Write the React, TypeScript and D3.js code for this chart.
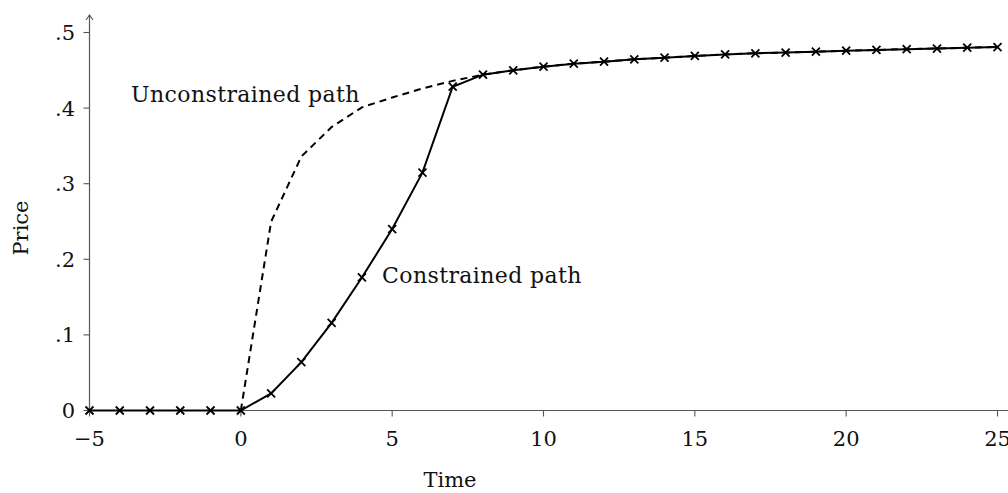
import React from "react";
import * as d3 from "d3";

const times = d3.range(-5, 26);
const constrained = [
  0, 0, 0, 0, 0, 0,
  0.0227, 0.064, 0.116, 0.176, 0.240, 0.3146, 0.4283,
  0.4442, 0.450, 0.4548, 0.4587, 0.4614, 0.4646, 0.4667, 0.4690, 0.4710, 0.4725,
  0.4735, 0.4747, 0.4759, 0.4769, 0.4780, 0.4788, 0.4799, 0.4808,
];
const unconstrainedTimes = d3.range(0, 26);
const unconstrained = [
  0, 0.2497, 0.336, 0.375, 0.401, 0.414, 0.426, 0.436,
  0.4442, 0.450, 0.4548, 0.4587, 0.4614, 0.4646, 0.4667, 0.4690, 0.4710, 0.4725,
  0.4735, 0.4747, 0.4759, 0.4769, 0.4780, 0.4788, 0.4799, 0.4808,
];
const xTicks = [-5, 0, 5, 10, 15, 20, 25];
const xTickLabels = ["\u22125", "0", "5", "10", "15", "20", "25"];
const yTicks = [0, 0.1, 0.2, 0.3, 0.4, 0.5];
const yTickLabels = ["0", ".1", ".2", ".3", ".4", ".5"];

const W = 1008;
const H = 493;
const FONT = "'DejaVu Serif', serif";

export default function App() {
  const x = d3.scaleLinear().domain([-5, 25]).range([89.5, 997.5]);
  const y = d3.scaleLinear().domain([0, 0.5]).range([410.5, 32.5]);
  const line = d3
    .line<[number, number]>()
    .x((d) => x(d[0]))
    .y((d) => y(d[1]));
  const cData: [number, number][] = times.map((t, i) => [t, constrained[i]]);
  const uData: [number, number][] = unconstrainedTimes.map((t, i) => [t, unconstrained[i]]);
  const axisColor = "#555";
  const m = 4;
  return (
    <svg
      width={W}
      height={H}
      style={{ position: "absolute", left: 0, top: 0, display: "block", background: "#fff" }}
    >
      {/* axes */}
      <line x1={x(-5)} x2={W} y1={y(0)} y2={y(0)} stroke={axisColor} strokeWidth={1.2} />
      <line x1={x(-5)} x2={x(-5)} y1={y(0)} y2={15} stroke={axisColor} strokeWidth={1.2} />
      <path
        d={`M${x(-5) - 3.5},${20} L${x(-5)},${15} L${x(-5) + 3.5},${20}`}
        fill="none"
        stroke={axisColor}
        strokeWidth={1.1}
      />
      {xTicks.map((t, i) => (
        <g key={"xt" + t}>
          <line x1={x(t)} x2={x(t)} y1={y(0)} y2={y(0) + 6} stroke={axisColor} strokeWidth={1.1} />
          <text
            x={x(t)}
            y={446}
            textAnchor="middle"
            fontFamily={FONT}
            fontSize={21}
            fill="#111"
          >
            {xTickLabels[i]}
          </text>
        </g>
      ))}
      {yTicks.map((v, i) => (
        <g key={"yt" + v}>
          <line x1={x(-5) - 6} x2={x(-5)} y1={y(v)} y2={y(v)} stroke={axisColor} strokeWidth={1.1} />
          <text
            x={75}
            y={y(v) + 7.5}
            textAnchor="end"
            fontFamily={FONT}
            fontSize={21}
            fill="#111"
          >
            {yTickLabels[i]}
          </text>
        </g>
      ))}
      <text x={450} y={487} textAnchor="middle" fontFamily={FONT} fontSize={21} fill="#111">
        Time
      </text>
      <text
        transform={`translate(28,228) rotate(-90)`}
        textAnchor="middle"
        fontFamily={FONT}
        fontSize={21}
        fill="#111"
      >
        Price
      </text>

      {/* unconstrained dashed */}
      <path
        d={line(uData) || ""}
        fill="none"
        stroke="#000"
        strokeWidth={2}
        strokeDasharray="7,5"
      />
      {/* constrained solid */}
      <path d={line(cData) || ""} fill="none" stroke="#000" strokeWidth={2} />
      {cData.map((d, i) => (
        <path
          key={"m" + i}
          d={`M${x(d[0]) - m},${y(d[1]) - m}L${x(d[0]) + m},${y(d[1]) + m}M${x(d[0]) - m},${y(d[1]) + m}L${x(d[0]) + m},${y(d[1]) - m}`}
          stroke="#000"
          strokeWidth={1.8}
        />
      ))}

      <text x={131} y={101.5} fontFamily={FONT} fontSize={22} letterSpacing={0.4} fill="#111">
        Unconstrained path
      </text>
      <text x={382} y={283} fontFamily={FONT} fontSize={22} letterSpacing={0.4} fill="#111">
        Constrained path
      </text>
    </svg>
  );
}
